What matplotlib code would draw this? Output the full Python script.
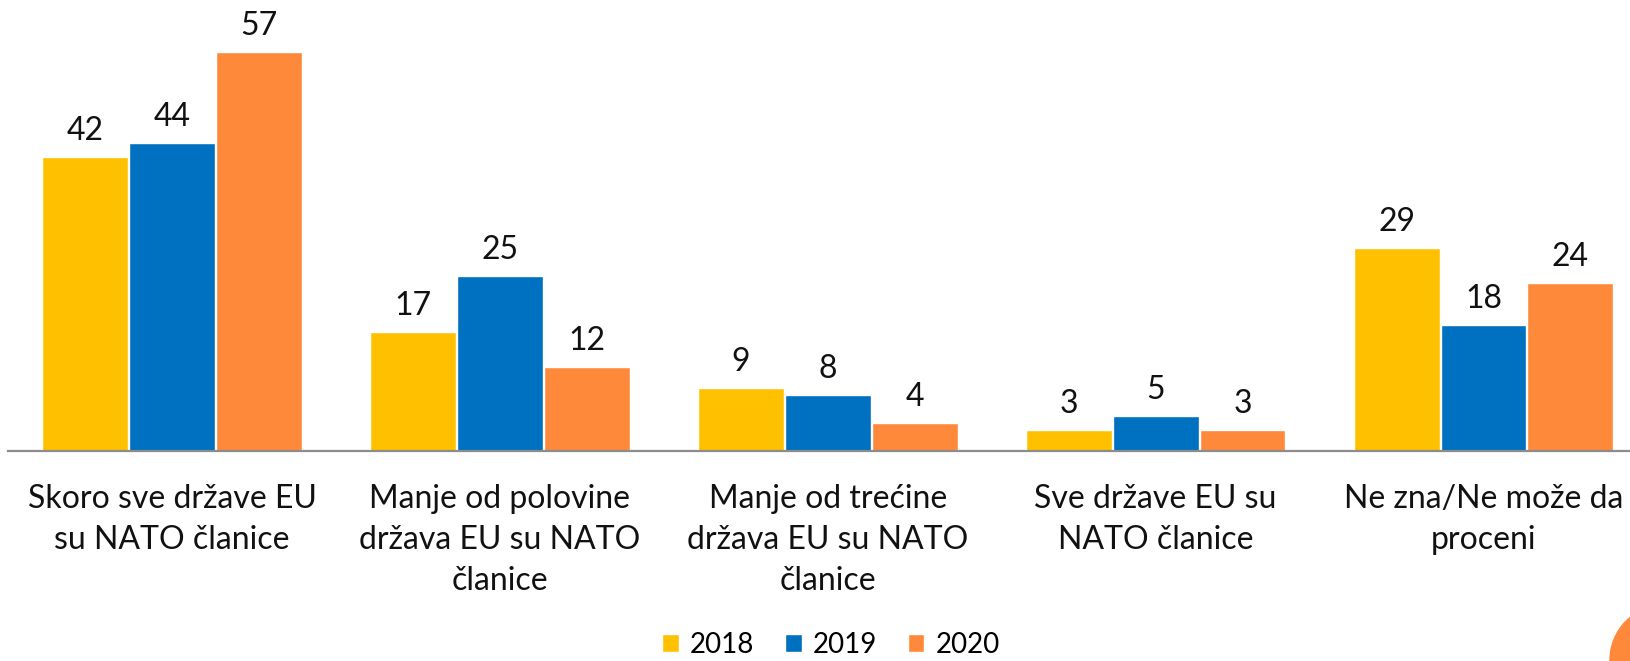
import matplotlib.pyplot as plt
from matplotlib.patches import Ellipse
import numpy as np

plt.rcParams['font.family'] = ['Lato', 'DejaVu Sans']

categories = ["Skoro sve države EU\nsu NATO članice",
              "Manje od polovine\ndržava EU su NATO\nčlanice",
              "Manje od trećine\ndržava EU su NATO\nčlanice",
              "Sve države EU su\nNATO članice",
              "Ne zna/Ne može da\nproceni"]
years = ["2018", "2019", "2020"]
v2018 = [42, 17, 9, 3, 29]
v2019 = [44, 25, 8, 5, 18]
v2020 = [57, 12, 4, 3, 24]
colors = ["#FFC000", "#0070C0", "#FF893B"]

fig = plt.figure(figsize=(16.31, 6.61), dpi=100)
ax = fig.add_axes([8 / 1631, 210 / 661, 1623 / 1631, 451 / 661])

x = np.arange(len(categories))
w = 0.262
for i, (vals, yr) in enumerate(zip([v2018, v2019, v2020], years)):
    bars = ax.bar(x + (i - 1) * 0.265, vals, w, color=colors[i], label=yr,
                  edgecolor="white", linewidth=1)
    for b, v in zip(bars, vals):
        ax.annotate(str(v), (b.get_x() + b.get_width() / 2, v),
                    xytext=(0, 8), textcoords="offset points",
                    ha="center", va="bottom", fontsize=23, color="#111111")

ax.set_xlim(-0.5, 4.45)
ax.set_ylim(0, 64.4)
ax.set_yticks([])
for s in ["top", "right", "left"]:
    ax.spines[s].set_visible(False)
ax.spines["bottom"].set_color("#8c8c8c")
ax.spines["bottom"].set_linewidth(1.6)
ax.set_xticks(x)
ax.set_xticklabels(categories, fontsize=23, linespacing=1.45, color="#111111")
ax.tick_params(axis="x", length=0, pad=24)

fig.legend(loc="center", bbox_to_anchor=(831 / 1631, 1 - 645 / 661), ncol=3,
           frameon=False, fontsize=20, handlelength=0.6, handleheight=0.6,
           handletextpad=0.4, columnspacing=1.1)

fig.patches.append(Ellipse((1665 / 1631, 1 - 660 / 661), 110 / 1631, 110 / 661,
                           transform=fig.transFigure, color="#FF893B"))

fig.savefig("out.png", dpi=100)
